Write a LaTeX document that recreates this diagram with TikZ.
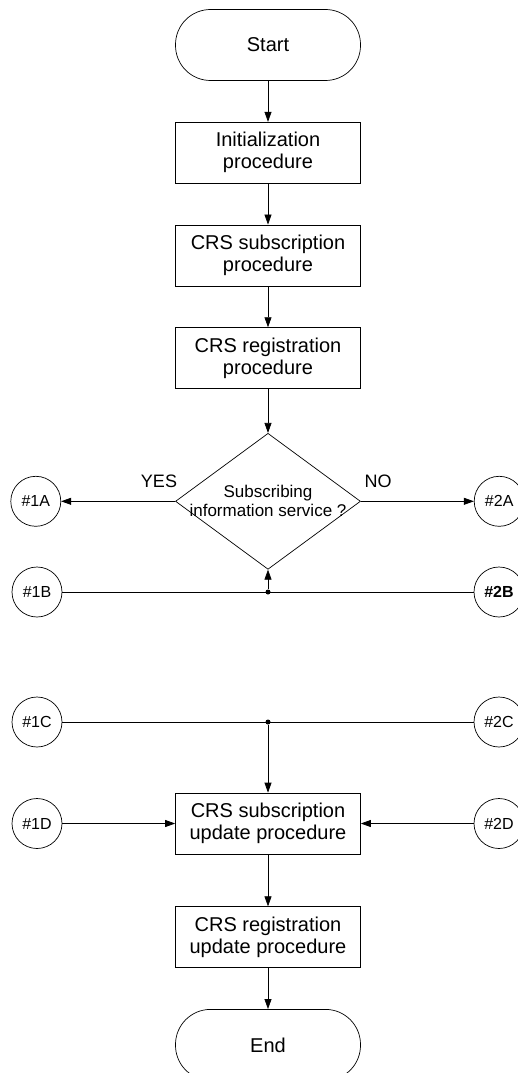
\documentclass[tikz,border=0pt]{standalone}
\usepackage{fontspec}
\setmainfont{Liberation Sans}
\usetikzlibrary{arrows.meta,positioning,shapes.geometric}
\tikzset{
  termbox/.style={draw,rounded corners=35pt,minimum width=185pt,minimum height=71pt,
    font=\fontsize{20}{23}\selectfont},
  procbox/.style={draw,align=center,minimum width=185pt,minimum height=61pt,inner sep=0pt,
    font=\fontsize{20}{22}\selectfont},
  decisionbox/.style={draw,diamond,minimum width=185pt,minimum height=136pt,inner sep=0pt},
  linkcircle/.style={draw,circle,minimum size=50pt,inner sep=0pt,font=\fontsize{16}{18}\selectfont},
  flowarrow/.style={-{Triangle[length=10pt,width=7pt]}},
  branchlabel/.style={font=\fontsize{18}{20}\selectfont},
  junction/.style={circle,fill,inner sep=0pt,minimum size=5pt}
}
\begin{document}
\begin{tikzpicture}[x=1pt,y=-1pt,node distance=41pt,line width=0.7pt]
  \useasboundingbox (0,0) rectangle (518,1073);
  % main column
  \node[termbox] (start) at (268,45) {Start};
  \node[procbox,below=of start] (init) {Initialization\\procedure};
  \node[procbox,below=of init] (sub) {CRS subscription\\procedure};
  \node[procbox,below=of sub] (reg) {CRS registration\\procedure};
  \node[decisionbox,below=44pt of reg,
    label={[align=center,font=\fontsize{17}{19}\selectfont]center:Subscribing\\information service ?}] (info) {};
  \node[procbox] (subupd) at (268,823.5) {CRS subscription\\update procedure};
  \node[procbox,below=52pt of subupd] (regupd) {CRS registration\\update procedure};
  \node[termbox,below=of regupd] (end) {End};
  % connectors
  \node[linkcircle,left=114pt of info] (l1a) {\#1A};
  \node[linkcircle,right=113pt of info] (l2a) {\#2A};
  \node[linkcircle] (l1b) at (37,592) {\#1B};
  \node[linkcircle] (l2b) at (499,592) {\textbf{\#2B}};
  \node[linkcircle] (l1c) at (37,722) {\#1C};
  \node[linkcircle] (l2c) at (499,722) {\#2C};
  \node[linkcircle] (l1d) at (37,823.5) {\#1D};
  \node[linkcircle] (l2d) at (499,823.5) {\#2D};
  \node[branchlabel] (yes) at (159,481) {YES};
  \node[branchlabel] (no) at (378,481) {NO};
  \node[junction] (jb) at (info.south |- l1b) {};
  \node[junction] (jc) at (subupd.north |- l1c) {};
  % flow
  \draw[flowarrow] (start) -- (init);
  \draw[flowarrow] (init) -- (sub);
  \draw[flowarrow] (sub) -- (reg);
  \draw[flowarrow] (reg) -- (info);
  \draw[flowarrow] (info) -- (l1a);
  \draw[flowarrow] (info) -- (l2a);
  \draw (l1b) -- (l2b);
  \draw[flowarrow] (jb) -- (info.south);
  \draw (l1c) -- (l2c);
  \draw[flowarrow] (jc) -- (subupd);
  \draw[flowarrow] (l1d) -- (subupd);
  \draw[flowarrow] (l2d) -- (subupd);
  \draw[flowarrow] (subupd) -- (regupd);
  \draw[flowarrow] (regupd) -- (end);
\end{tikzpicture}
\end{document}
